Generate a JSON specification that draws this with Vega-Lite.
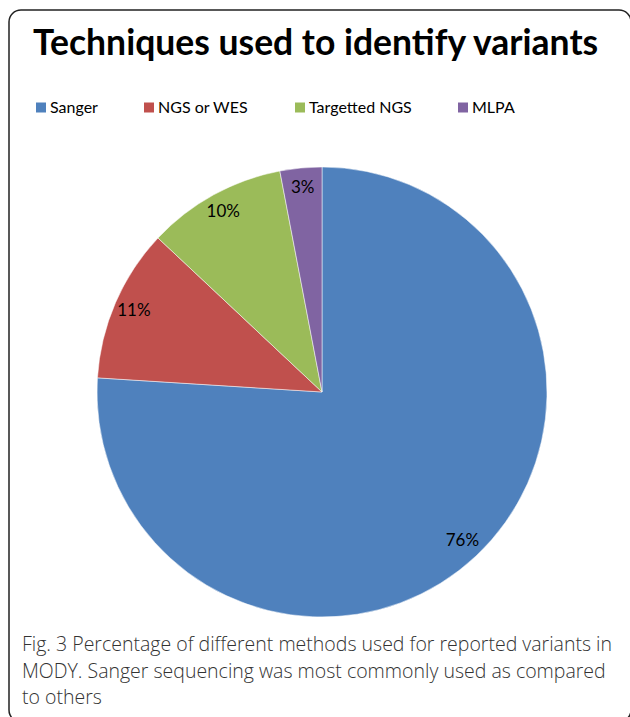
{
  "$schema": "https://vega.github.io/schema/vega-lite/v6.json",
  "width": 622,
  "height": 712,
  "autosize": {"type": "none"},
  "padding": {"left": 9, "top": 10, "right": 0, "bottom": 0},
  "background": "white",
  "view": {"stroke": "#222222", "strokeWidth": 1.5, "cornerRadius": 12, "fill": "white"},
  "title": {
    "text": [
      "Fig. 3 Percentage of different methods used for reported variants in",
      "MODY. Sanger sequencing was most commonly used as compared",
      "to others"
    ],
    "orient": "bottom",
    "anchor": "start",
    "frame": "group",
    "offset": -86,
    "dx": 13,
    "font": "Open Sans",
    "fontSize": 19.5,
    "fontWeight": 300,
    "color": "#333333",
    "lineHeight": 26.5,
    "baseline": "top"
  },
  "config": {
    "view": {"stroke": "#222222", "strokeWidth": 1.5, "cornerRadius": 12}
  },
  "data": {
    "values": [
      {"idx": 1, "technique": "Sanger", "percent": 76, "label": "76%"},
      {"idx": 2, "technique": "NGS or WES", "percent": 11, "label": "11%"},
      {"idx": 3, "technique": "Targetted NGS", "percent": 10, "label": "10%"},
      {"idx": 4, "technique": "MLPA", "percent": 3, "label": "3%"}
    ]
  },
  "layer": [
    {
      "mark": {"type": "arc", "outerRadius": 225, "xOffset": 2, "yOffset": 26, "stroke": "white", "strokeWidth": 0.5},
      "encoding": {
        "theta": {"field": "percent", "type": "quantitative", "stack": true},
        "order": {"field": "idx", "type": "quantitative"},
        "color": {
          "field": "technique",
          "type": "nominal",
          "scale": {
            "domain": ["Sanger", "NGS or WES", "Targetted NGS", "MLPA"],
            "range": ["#4F81BD", "#C0504D", "#9BBB59", "#8064A2"]
          },
          "legend": {
            "orient": "none",
            "legendX": 24,
            "legendY": 17,
            "direction": "horizontal",
            "title": "Techniques used to identify variants",
            "titleFont": "Lato",
            "titleFontSize": 35.5,
            "titleFontWeight": "bold",
            "titleColor": "black",
            "titleAnchor": "start",
            "titlePadding": 37,
            "titleLimit": 800,
            "symbolType": "square",
            "symbolSize": 100,
            "symbolStrokeWidth": 0,
            "labelFont": "Lato",
            "labelFontSize": 16,
            "labelColor": "black",
            "labelLimit": 300,
            "labelOffset": 1,
            "columnPadding": 43
          }
        }
      }
    },
    {
      "mark": {"type": "text", "radius": 205, "xOffset": 2, "yOffset": 26, "font": "Lato", "fontSize": 17, "color": "black"},
      "encoding": {
        "theta": {"field": "percent", "type": "quantitative", "stack": true},
        "order": {"field": "idx", "type": "quantitative"},
        "text": {"field": "label", "type": "nominal"}
      }
    }
  ]
}
